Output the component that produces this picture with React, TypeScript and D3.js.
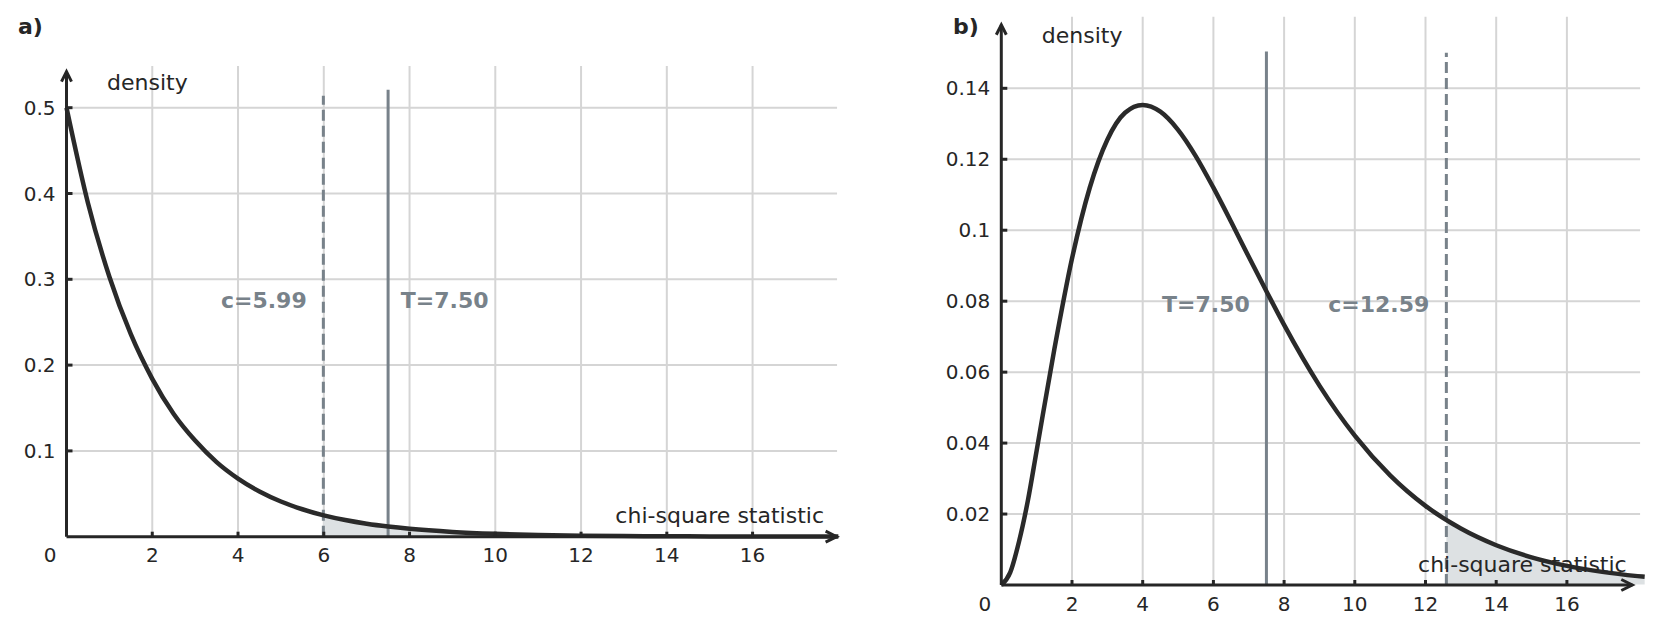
import React from "react";
import * as d3 from "d3";

// ---------- data ----------
const xA = [0, 0.5, 1, 1.5, 2, 2.5, 3, 3.5, 4, 4.5, 5, 5.5, 6, 6.5, 7, 7.5, 8, 9, 10, 11, 12, 13, 14, 15, 16, 17, 18];
const densA = [0.5, 0.389, 0.303, 0.236, 0.184, 0.143, 0.112, 0.0869, 0.0677, 0.0527, 0.041, 0.032, 0.0249, 0.0194, 0.0151, 0.0118, 0.0092, 0.0056, 0.0034, 0.002, 0.0012, 0.0008, 0.0005, 0.0003, 0.0002, 0.0001, 0.0001];

const xB = [0, 0.25, 0.5, 0.75, 1, 1.5, 2, 2.5, 3, 3.5, 4, 4.5, 5, 5.5, 6, 6.5, 7, 7.5, 8, 9, 10, 11, 12, 13, 14, 15, 16, 17, 18, 18.2];
const densB = [0, 0.0035, 0.0122, 0.0237, 0.0379, 0.0664, 0.092, 0.1119, 0.1255, 0.1331, 0.1353, 0.1334, 0.1283, 0.1209, 0.112, 0.1024, 0.0925, 0.0828, 0.0733, 0.0562, 0.0421, 0.0309, 0.0223, 0.0159, 0.0112, 0.0078, 0.0054, 0.0037, 0.0025, 0.0023];

const xTicks = [2, 4, 6, 8, 10, 12, 14, 16];
const yTicksA = [0.1, 0.2, 0.3, 0.4, 0.5];
const yTickLabelsA = ["0.1", "0.2", "0.3", "0.4", "0.5"];
const yTicksB = [0.02, 0.04, 0.06, 0.08, 0.1, 0.12, 0.14];
const yTickLabelsB = ["0.02", "0.04", "0.06", "0.08", "0.1", "0.12", "0.14"];

const criticalA = 5.99;
const statA = 7.5;
const criticalB = 12.59;
const statB = 7.5;
const labelCritA = "c=5.99";
const labelStatA = "T=7.50";
const labelCritB = "c=12.59";
const labelStatB = "T=7.50";

// ---------- styling ----------
const FONT = "'DejaVu Sans', Verdana, sans-serif";
const INK = "#262626";
const CURVE = "#2a2a2a";
const MARK = "#78828a";
const GRID = "#d5d5d5";
const FILL = "#dde1e3";

type Marker = { x: number; top: number; dashed: boolean; label: string; side: "left" | "right"; gap: number };

type PanelProps = {
  id: string;
  title: string;
  titleX: number;
  xs: number[];
  ys: number[];
  xRange: [number, number];
  yRange: [number, number];
  yMax: number;
  yTicks: number[];
  yLabels: string[];
  gridTop: number;
  gridEnd: number;
  arrowX: number;
  arrowY: number;
  critical: number;
  markers: Marker[];
  markerLabelY: number;
  xLabelEnd: number;
  xLabelBaseline: number;
};

function Panel(p: PanelProps) {
  const x = d3.scaleLinear().domain([0, 18]).range(p.xRange);
  const y = d3.scaleLinear().domain([0, p.yMax]).range(p.yRange);
  const pts: [number, number][] = p.xs.map((v, i) => [v, p.ys[i]]);
  const line = d3
    .line<[number, number]>()
    .x((d) => x(d[0]))
    .y((d) => y(d[1]))
    .curve(d3.curveMonotoneX);
  const area = d3
    .area<[number, number]>()
    .x((d) => x(d[0]))
    .y0(y(0))
    .y1((d) => y(d[1]))
    .curve(d3.curveMonotoneX);

  const x0 = x(0);
  const y0 = y(0);
  const gx = x(p.gridEnd);
  const gTop = y(p.gridTop);
  const ax = x(p.arrowX);
  const ay = y(p.arrowY);

  return (
    <g>
      <defs>
        <clipPath id={`clip-${p.id}`}>
          <rect x={x(p.critical)} y={0} width={2000} height={y0 - 0.5} />
        </clipPath>
      </defs>
      {/* grid */}
      {xTicks.map((t) => (
        <line key={`gx${t}`} x1={x(t)} x2={x(t)} y1={y0} y2={gTop} stroke={GRID} strokeWidth={2} />
      ))}
      {p.yTicks.map((t) => (
        <line key={`gy${t}`} x1={x0} x2={gx} y1={y(t)} y2={y(t)} stroke={GRID} strokeWidth={2} />
      ))}
      {/* rejection region */}
      <path d={area(pts) || ""} fill={FILL} clipPath={`url(#clip-${p.id})`} />
      {/* vertical markers */}
      {p.markers.map((m, i) => (
        <line
          key={`m${i}`}
          x1={x(m.x)}
          x2={x(m.x)}
          y1={y0}
          y2={y(m.top)}
          stroke={MARK}
          strokeWidth={3}
          strokeDasharray={m.dashed ? "11,5" : undefined}
        />
      ))}
      {p.markers.map((m, i) => (
        <text
          key={`ml${i}`}
          x={m.side === "left" ? x(m.x) - m.gap : x(m.x) + m.gap}
          y={y(p.markerLabelY)}
          textAnchor={m.side === "left" ? "end" : "start"}
          fontFamily={FONT}
          fontWeight="bold"
          fontSize={22}
          fill={MARK}
        >
          {m.label}
        </text>
      ))}
      {/* curve */}
      <path d={line(pts) || ""} fill="none" stroke={CURVE} strokeWidth={4.5} strokeLinejoin="round" />
      {/* axes */}
      <line x1={x0} x2={x0} y1={y0} y2={ay} stroke={INK} strokeWidth={3} />
      <polyline points={`${x0 - 5},${ay + 10} ${x0},${ay} ${x0 + 5},${ay + 10}`} fill="none" stroke={INK} strokeWidth={3} />
      <line x1={x0} x2={ax} y1={y0} y2={y0} stroke={INK} strokeWidth={3} />
      <polyline points={`${ax - 11},${y0 - 5.5} ${ax},${y0} ${ax - 11},${y0 + 5.5}`} fill="none" stroke={INK} strokeWidth={3} />
      {/* ticks */}
      {xTicks.map((t) => (
        <g key={`tx${t}`}>
          <line x1={x(t)} x2={x(t)} y1={y0} y2={y0 - 5} stroke={INK} strokeWidth={3} />
          <text x={x(t)} y={y0 + 25.7} textAnchor="middle" fontFamily={FONT} fontSize={20} fill={INK}>
            {t}
          </text>
        </g>
      ))}
      <text x={x0 - 16.5} y={y0 + 25.7} textAnchor="middle" fontFamily={FONT} fontSize={20} fill={INK}>
        0
      </text>
      {p.yTicks.map((t, i) => (
        <g key={`ty${t}`}>
          <line x1={x0} x2={x0 + 6} y1={y(t)} y2={y(t)} stroke={INK} strokeWidth={3} />
          <text x={x0 - 11} y={y(t)} dy="0.35em" textAnchor="end" fontFamily={FONT} fontSize={20} fill={INK}>
            {p.yLabels[i]}
          </text>
        </g>
      ))}
      {/* axis labels */}
      <text x={x0 + 40.5} y={ay + 18} fontFamily={FONT} fontSize={22} fill={INK}>
        density
      </text>
      <text x={p.xLabelEnd} y={p.xLabelBaseline} textAnchor="end" fontFamily={FONT} fontSize={22} fill={INK}>
        chi-square statistic
      </text>
      <text x={p.titleX} y={34} fontFamily={FONT} fontWeight="bold" fontSize={22} fill={INK}>
        {p.title}
      </text>
    </g>
  );
}

export default function App() {
  return (
    <svg
      width={1657}
      height={633}
      viewBox="0 0 1657 633"
      style={{ position: "absolute", left: 0, top: 0, background: "#fff" }}
    >
      <rect x={0} y={0} width={1657} height={633} fill="#fff" />
      <Panel
        id="a"
        title="a)"
        titleX={18}
        xs={xA}
        ys={densA}
        xRange={[66.5, 66.5 + 18 * 42.88]}
        yRange={[536.7, 107.7]}
        yMax={0.5}
        yTicks={yTicksA}
        yLabels={yTickLabelsA}
        gridTop={0.5486}
        gridEnd={17.97}
        arrowX={17.96}
        arrowY={0.542}
        critical={criticalA}
        markers={[
          { x: criticalA, top: 0.514, dashed: true, label: labelCritA, side: "left", gap: 16.6 },
          { x: statA, top: 0.521, dashed: false, label: labelStatA, side: "right", gap: 12.7 },
        ]}
        markerLabelY={0.267}
        xLabelEnd={824}
        xLabelBaseline={523.3}
      />
      <Panel
        id="b"
        title="b)"
        titleX={953}
        xs={xB}
        ys={densB}
        xRange={[1001.3, 1001.3 + 18 * 35.35]}
        yRange={[585, 88.3]}
        yMax={0.14}
        yTicks={yTicksB}
        yLabels={yTickLabelsB}
        gridTop={0.1602}
        gridEnd={18.07}
        arrowX={17.85}
        arrowY={0.1579}
        critical={criticalB}
        markers={[
          { x: statB, top: 0.1504, dashed: false, label: labelStatB, side: "left", gap: 16.6 },
          { x: criticalB, top: 0.15, dashed: true, label: labelCritB, side: "left", gap: 17 },
        ]}
        markerLabelY={0.0769}
        xLabelEnd={1626.7}
        xLabelBaseline={571.7}
      />
    </svg>
  );
}
